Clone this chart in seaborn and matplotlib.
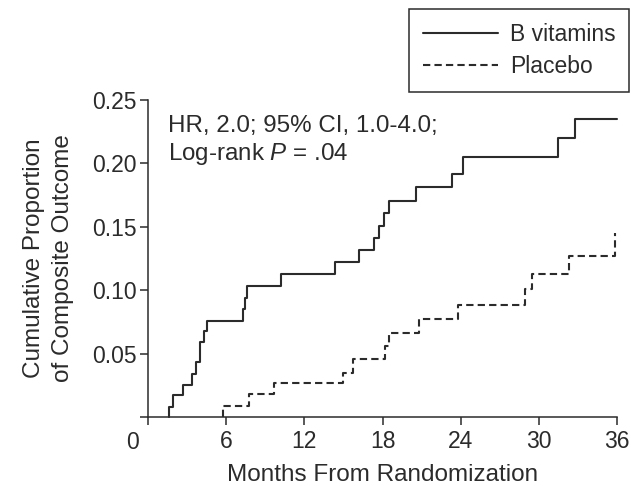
import numpy as np
import pandas as pd
import matplotlib.pyplot as plt
import seaborn as sns

# Kaplan-Meier style cumulative incidence
months_b = [1.6, 1.6, 1.9, 2.7, 3.4, 3.7, 4.0, 4.3, 4.5, 7.3, 7.45, 7.6, 10.2, 14.35,
            16.2, 17.35, 17.7, 18.1, 18.5, 20.6, 23.3, 24.2, 31.5, 32.8, 36.0]
prop_b = [0.0, 0.008, 0.017, 0.025, 0.034, 0.043, 0.059, 0.068, 0.076, 0.085, 0.094,
          0.103, 0.113, 0.122, 0.132, 0.141, 0.151, 0.161, 0.170, 0.181, 0.192, 0.205,
          0.220, 0.235, 0.235]
months_p = [5.75, 5.75, 7.75, 9.7, 15.0, 15.7, 18.2, 18.5, 20.8, 23.8, 28.9, 29.5,
            32.3, 35.85]
prop_p = [0.0, 0.009, 0.018, 0.027, 0.035, 0.046, 0.056, 0.066, 0.077, 0.088, 0.101,
          0.113, 0.127, 0.145]
groups = ['B vitamins', 'Placebo']
x_ticks = [0, 6, 12, 18, 24, 30, 36]
y_ticks = [0, 0.05, 0.10, 0.15, 0.20, 0.25]
stats_text = 'HR, 2.0; 95% CI, 1.0-4.0;\nLog-rank $\\mathit{P}$ = .04'

sns.set_style('ticks')
plt.rcParams['font.family'] = ['Liberation Sans', 'DejaVu Sans']
plt.rcParams['mathtext.fontset'] = 'custom'
plt.rcParams['mathtext.it'] = 'Liberation Sans:italic'
plt.rcParams['mathtext.rm'] = 'Liberation Sans'

ink = '#2b2b2b'

df = pd.concat([
    pd.DataFrame({'month': months_b, 'prop': prop_b, 'group': groups[0]}),
    pd.DataFrame({'month': months_p, 'prop': prop_p, 'group': groups[1]}),
], ignore_index=True)

fig = plt.figure(figsize=(6.31, 4.86), dpi=100)
ax = fig.add_axes([148 / 631, 1 - 417 / 486, (617 - 148) / 631, (417 - 100) / 486])

sns.lineplot(data=df, x='month', y='prop', hue='group', style='group',
             palette={groups[0]: ink, groups[1]: ink},
             dashes={groups[0]: '', groups[1]: (3.5, 2)},
             estimator=None, sort=False, drawstyle='steps-post',
             linewidth=1.5, clip_on=False, ax=ax)

ax.set_xlim(0, 36)
ax.set_ylim(0, 0.25)
ax.set_xticks(x_ticks)
ax.set_xticklabels([str(t) if t else '' for t in x_ticks])
ax.set_yticks(y_ticks)
ax.set_yticklabels(['' if v == 0 else f'{v:.2f}' for v in y_ticks])
ax.tick_params(direction='out', length=6, width=1.1, color=ink, labelcolor=ink,
               labelsize=16.5)
ax.tick_params(axis='y', pad=2)
ax.tick_params(axis='x', pad=3)
sns.despine(ax=ax)
for side in ['left', 'bottom']:
    ax.spines[side].set_linewidth(1.1)
    ax.spines[side].set_color(ink)

ax.annotate('0', xy=(0, 0), xytext=(-11, -18), textcoords='offset points',
            ha='center', va='center', fontsize=16.5, color=ink, annotation_clip=False)

ax.set_xlabel('Months From Randomization', fontsize=17.5, color=ink, labelpad=8)
ax.set_ylabel('Cumulative Proportion\nof Composite Outcome', fontsize=17.5,
              color=ink, linespacing=1.4, labelpad=13)

ax.text(1.5, 0.238, stats_text, ha='left', va='top', fontsize=17.4, color=ink,
        linespacing=1.2)

handles, labels = ax.get_legend_handles_labels()
leg = ax.legend(handles, labels, loc='upper right',
                bbox_to_anchor=(629 / 631, 1 - 9 / 486), bbox_transform=fig.transFigure,
                borderaxespad=0, fontsize=16.5, frameon=True, fancybox=False,
                framealpha=1, edgecolor=ink, handlelength=3.3, handletextpad=0.5,
                labelspacing=0.4, borderpad=0.6)
leg.get_frame().set_linewidth(1.1)
for t in leg.get_texts():
    t.set_color(ink)

fig.savefig('out.png', dpi=100)
